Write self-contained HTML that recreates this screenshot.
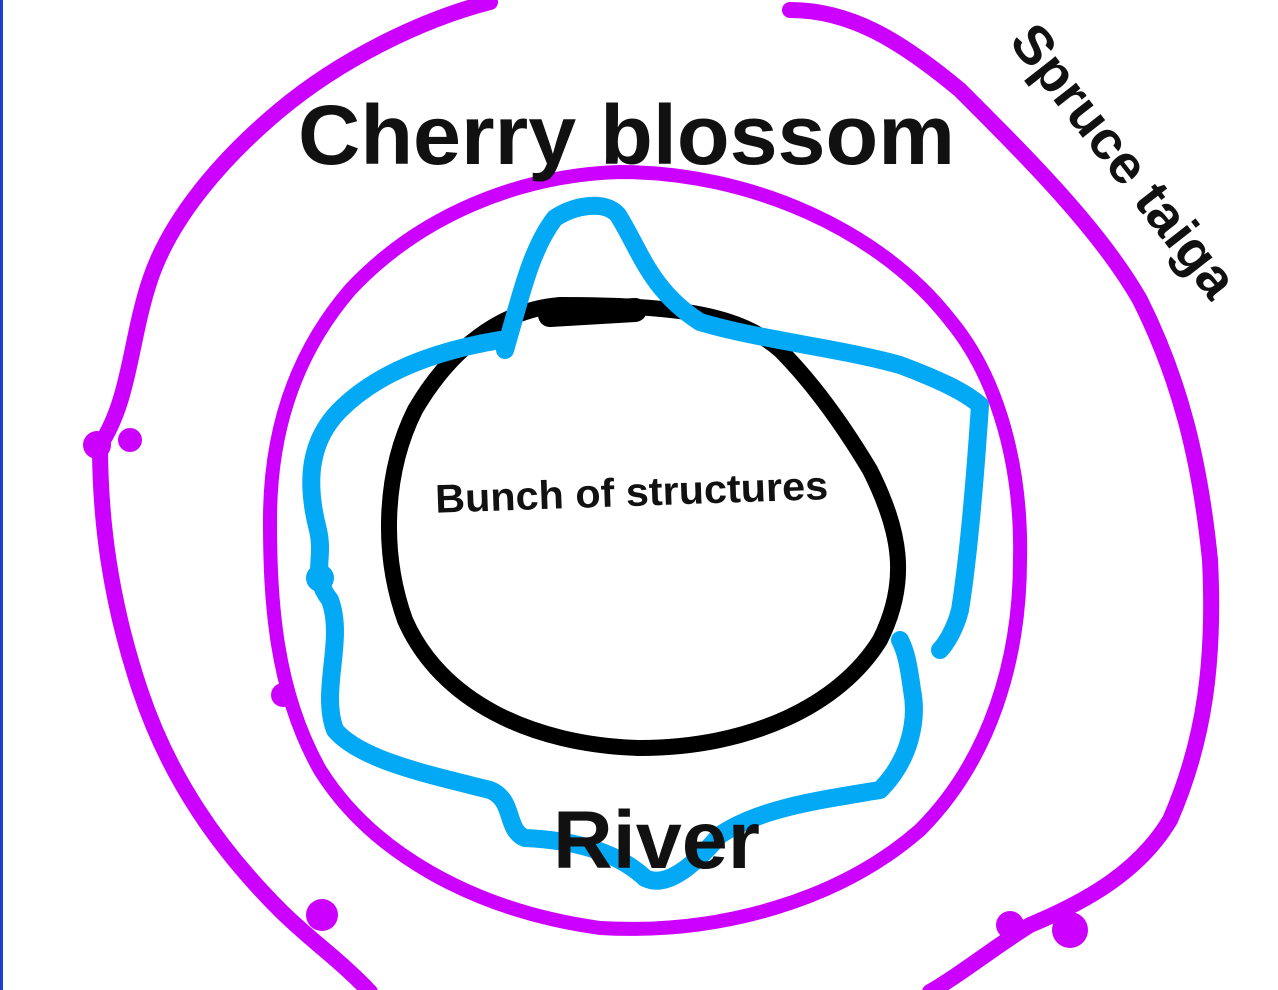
<!DOCTYPE html>
<html><head><meta charset="utf-8"><style>
html,body{margin:0;padding:0;background:#fff;}
body{width:1278px;height:990px;overflow:hidden;position:relative;}
svg{position:absolute;left:0;top:0;}
</style></head><body>
<svg width="1278" height="990" viewBox="0 0 1278 990" xmlns="http://www.w3.org/2000/svg">
<rect x="0" y="0" width="3" height="990" fill="#1a3fd1"/>
<g fill="none" stroke="#cc00ff" stroke-linecap="round" stroke-linejoin="round">
<path stroke-width="16" d="M490,2 C420,20 340,60 280,110 C220,160 170,220 150,280 C130,340 130,400 100,445 C100,520 110,600 140,690 C170,780 220,850 280,910 C310,940 340,960 370,992"/>
<path stroke-width="16" d="M790,10 C850,10 900,40 960,90 C1030,160 1100,230 1140,300 C1180,380 1200,460 1210,560 C1215,660 1205,740 1170,820 C1140,870 1090,900 1030,925 C990,950 960,975 930,992"/>
<path stroke-width="14" d="M620,172 C520,175 420,215 350,290 C290,360 270,440 270,520 C270,600 275,690 320,770 C370,850 470,910 600,928 C720,935 840,900 920,830 C990,760 1020,660 1020,560 C1022,470 1000,380 950,320 C880,230 750,172 620,172 Z"/>
<circle cx="97" cy="445" r="14" fill="#cc00ff" stroke="none"/>
<circle cx="130" cy="440" r="12" fill="#cc00ff" stroke="none"/>
<circle cx="322" cy="915" r="16" fill="#cc00ff" stroke="none"/>
<circle cx="1070" cy="930" r="18" fill="#cc00ff" stroke="none"/>
<circle cx="1010" cy="925" r="14" fill="#cc00ff" stroke="none"/>
<circle cx="283" cy="695" r="12" fill="#cc00ff" stroke="none"/>
</g>
<g fill="none" stroke="#000" stroke-linecap="round" stroke-linejoin="round">
<path stroke-width="16" d="M560,305 C500,310 450,350 415,410 C385,470 380,550 405,620 C440,700 530,745 640,748 C750,748 840,705 880,640 C910,580 900,530 870,470 C840,420 810,380 780,350 C740,315 680,305 560,305 Z"/>
<path stroke-width="24" d="M550,315 L635,310"/>
</g>
<g fill="none" stroke="#03a9f4" stroke-width="18" stroke-linecap="round" stroke-linejoin="round">
<path d="M505,350 C520,300 530,250 555,218 C575,205 605,200 618,215 C640,250 650,290 700,322 C760,340 840,348 900,365 C940,380 965,392 980,405 C975,480 968,560 960,610 C955,630 945,645 940,650"/>
<path d="M500,340 C440,350 380,370 340,410 C310,440 305,480 318,530 C325,560 310,575 330,600 C345,640 320,690 335,730 C360,760 430,775 490,790 C515,800 505,830 525,838 C570,840 615,850 645,878 C665,888 690,870 720,835 C760,808 820,800 880,790 C910,760 918,720 912,690 C908,660 905,650 900,640"/>
<circle cx="320" cy="578" r="14" fill="#03a9f4" stroke="none"/>
</g>
<g font-family="Liberation Sans, sans-serif" fill="#111" font-weight="bold">
<text x="298" y="164" font-size="84" textLength="657" lengthAdjust="spacingAndGlyphs">Cherry blossom</text>
<text x="435" y="506" font-size="40" textLength="393" lengthAdjust="spacingAndGlyphs" transform="rotate(-2 630 490)">Bunch of structures</text>
<text x="553" y="868" font-size="82" textLength="207" lengthAdjust="spacingAndGlyphs">River</text>
<text x="0" y="0" font-size="54" textLength="330" lengthAdjust="spacingAndGlyphs" transform="translate(1008,42) rotate(52)">Spruce taiga</text>
</g>
</svg>
</body></html>
